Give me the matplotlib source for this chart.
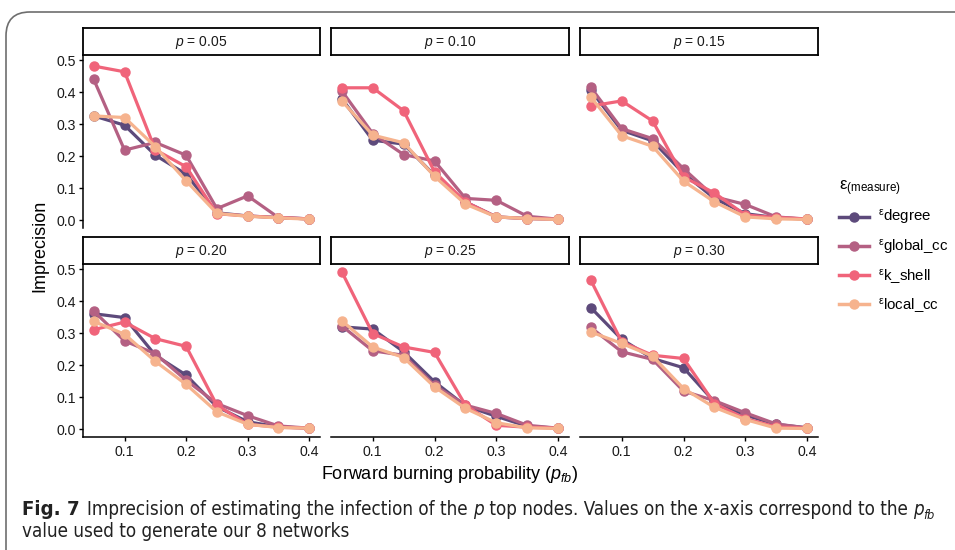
import matplotlib
matplotlib.use("Agg")
import matplotlib.pyplot as plt
from matplotlib.patches import FancyBboxPatch
from matplotlib.lines import Line2D
from matplotlib import font_manager as fm

plt.rcParams['font.family'] = ['Liberation Sans', 'DejaVu Sans']
plt.rcParams['mathtext.fontset'] = 'custom'
plt.rcParams['mathtext.rm'] = 'Liberation Sans'
plt.rcParams['mathtext.it'] = 'Liberation Sans:italic'
plt.rcParams['mathtext.bf'] = 'Liberation Sans:bold'

# ---------------- data ----------------
pfb = [0.05, 0.10, 0.15, 0.20, 0.25, 0.30, 0.35, 0.40]
p_values = ["0.05", "0.10", "0.15", "0.20", "0.25", "0.30"]
measures = ["degree", "global_cc", "k_shell", "local_cc"]
colors = ["#5d4a7b", "#b46083", "#f0647a", "#f6b38e"]

degree = [
    [0.326, 0.297, 0.203, 0.144, 0.023, 0.013, 0.008, 0.004],
    [0.380, 0.250, 0.238, 0.140, 0.057, 0.010, 0.005, 0.003],
    [0.406, 0.281, 0.248, 0.146, 0.068, 0.020, 0.008, 0.003],
    [0.361, 0.349, 0.231, 0.169, 0.070, 0.023, 0.007, 0.003],
    [0.320, 0.313, 0.242, 0.148, 0.073, 0.040, 0.009, 0.003],
    [0.380, 0.281, 0.221, 0.192, 0.085, 0.044, 0.015, 0.004],
]
global_cc = [
    [0.440, 0.219, 0.243, 0.203, 0.036, 0.076, 0.008, 0.004],
    [0.404, 0.271, 0.205, 0.185, 0.068, 0.062, 0.012, 0.003],
    [0.415, 0.286, 0.255, 0.161, 0.073, 0.049, 0.010, 0.003],
    [0.369, 0.276, 0.236, 0.153, 0.080, 0.042, 0.010, 0.003],
    [0.323, 0.245, 0.231, 0.137, 0.075, 0.049, 0.012, 0.003],
    [0.318, 0.242, 0.218, 0.119, 0.089, 0.051, 0.016, 0.004],
]
k_shell = [
    [0.482, 0.464, 0.220, 0.167, 0.020, 0.013, 0.008, 0.004],
    [0.414, 0.414, 0.342, 0.151, 0.057, 0.010, 0.005, 0.003],
    [0.357, 0.373, 0.310, 0.135, 0.085, 0.016, 0.008, 0.004],
    [0.311, 0.335, 0.283, 0.259, 0.075, 0.015, 0.006, 0.003],
    [0.492, 0.299, 0.257, 0.240, 0.075, 0.012, 0.006, 0.003],
    [0.466, 0.273, 0.231, 0.221, 0.080, 0.033, 0.007, 0.003],
]
local_cc = [
    [0.326, 0.321, 0.230, 0.123, 0.021, 0.012, 0.007, 0.003],
    [0.373, 0.266, 0.242, 0.137, 0.050, 0.010, 0.005, 0.002],
    [0.385, 0.264, 0.231, 0.122, 0.057, 0.010, 0.004, 0.002],
    [0.337, 0.297, 0.212, 0.140, 0.054, 0.015, 0.005, 0.003],
    [0.339, 0.257, 0.224, 0.132, 0.065, 0.020, 0.004, 0.002],
    [0.304, 0.268, 0.228, 0.127, 0.068, 0.030, 0.003, 0.002],
]
series = [degree, global_cc, k_shell, local_cc]
x_ticks = [0.1, 0.2, 0.3, 0.4]
y_ticks = [0.0, 0.1, 0.2, 0.3, 0.4, 0.5]

# ---------------- layout ----------------
W, H = 955, 550
fig = plt.figure(figsize=(W / 100, H / 100), dpi=100)

def fr(x0, y0, x1, y1):
    return [x0 / W, 1 - y1 / H, (x1 - x0) / W, (y1 - y0) / H]

cols = [(83, 320), (331, 569), (580, 818)]
rows = [((28, 55), (55, 228)), ((237, 264), (264, 437))]

for i, pv in enumerate(p_values):
    r, c = divmod(i, 3)
    (sx0, sx1) = cols[c]
    (st0, st1), (ay0, ay1) = rows[r]
    ax = fig.add_axes(fr(sx0, ay0, sx1, ay1))
    for s, col in zip(series, colors):
        ax.plot(pfb, s[i], color=col, lw=2.3, marker='o', ms=6.5,
                solid_capstyle='round', zorder=3)
    ax.set_xlim(0.0325, 0.4175)
    ax.set_ylim(-0.0246, 0.5166)
    ax.set_xticks(x_ticks)
    ax.set_yticks(y_ticks)
    for sp in ['top', 'right']:
        ax.spines[sp].set_visible(False)
    ax.spines['left'].set_visible(c == 0)
    ax.spines['bottom'].set_visible(r == 1)
    for sp in ax.spines.values():
        sp.set_linewidth(1.1)
        sp.set_color('black')
    ax.tick_params(axis='y', left=(c == 0), labelleft=(c == 0), length=3,
                   width=1.0, labelsize=10.2, pad=2, colors='black')
    ax.tick_params(axis='x', bottom=(r == 1), labelbottom=(r == 1), length=3,
                   width=1.0, labelsize=10.2, pad=3, colors='black')
    for lab in ax.get_xticklabels() + ax.get_yticklabels():
        lab.set_color('#1a1a1a')
    ax.yaxis.set_major_formatter(matplotlib.ticker.FormatStrFormatter('%.1f'))
    ax.xaxis.set_major_formatter(matplotlib.ticker.FormatStrFormatter('%.1f'))
    # strip
    sax = fig.add_axes(fr(sx0, st0, sx1, st1))
    sax.set_xticks([]); sax.set_yticks([])
    for sp in sax.spines.values():
        sp.set_linewidth(1.3)
    sax.text(0.5, 0.45, r'$p$ = ' + pv, ha='center', va='center',
             fontsize=10, color='#1a1a1a', transform=sax.transAxes)

# axis titles
fig.text(40 / W, 1 - 246 / H, 'Imprecision', rotation=90, ha='center',
         va='center', fontsize=13)
fig.text(450 / W, 1 - 479 / H, r'Forward burning probability ($p_{fb}$)',
         ha='center', va='baseline', fontsize=13)

# legend
handles = [Line2D([0], [0], color=c_, lw=2.5, marker='o', ms=6.5) for c_ in colors]
labels = [r'$^{\mathrm{ε}}\mathrm{degree}$', r'$^{\mathrm{ε}}\mathrm{global\_cc}$',
          r'$^{\mathrm{ε}}\mathrm{k\_shell}$', r'$^{\mathrm{ε}}\mathrm{local\_cc}$']
leg = fig.legend(handles, labels, loc='upper left',
                 bbox_to_anchor=(828 / W, 1 - 168 / H), frameon=False,
                 title=r'$\mathrm{ε}_{\mathrm{(measure)}}$', title_fontsize=12,
                 fontsize=10.8, handlelength=2.0, labelspacing=0.68,
                 handletextpad=0.6, borderpad=0.2)
leg._legend_box.align = 'left'

# frame around figure
frame = FancyBboxPatch((6 / W, -0.05), 1.2, (1 - 12 / H) + 0.05,
                       boxstyle='round,pad=0,rounding_size=0.025',
                       transform=fig.transFigure, fill=False,
                       edgecolor='#6e6e6e', lw=1.2, mutation_aspect=W / H)
fig.add_artist(frame)

# caption
cond = fm.FontProperties(family='DejaVu Sans', stretch='condensed')
path = fm.findfont(cond, fallback_to_default=True)
if 'Condensed' in path:
    cap_fams = ['DejaVu Sans']
    cap_stretch = 'condensed'
else:
    cap_fams = ['Liberation Sans Narrow', 'Liberation Sans', 'DejaVu Sans']
    cap_stretch = 'normal'

fig.canvas.draw()
renderer = fig.canvas.get_renderer()

def line(pieces, x_px, y_px, base):
    x = x_px
    made = []
    for txt, kw in pieces:
        t = fig.text(x / W, 1 - y_px / H, txt, ha='left', va='baseline',
                     fontsize=base * kw.get('scale', 1.0), family=cap_fams,
                     stretch=cap_stretch,
                     weight=kw.get('weight', 'normal'),
                     style=kw.get('style', 'normal'), color='#222222')
        bb = t.get_window_extent(renderer)
        x += bb.width + kw.get('gap', 0)
        made.append(t)
    return x, made

line1 = [("Fig. 7", dict(weight='bold', scale=1.08, gap=7)),
         ("Imprecision of estimating the infection of the ", {}),
         ("p", dict(style='italic')),
         (" top nodes. Values on the x-axis correspond to the ", {}),
         ("p", dict(style='italic'))]

# choose caption size so that line 1 spans like the reference
base = 12.0
xend, made = line(line1, 22, 515, base)
for t in made:
    t.remove()
base = base * (925 - 22) / (xend - 22)
xend, made = line(line1, 22, 515, base)
fig.text(xend / W, 1 - 519 / H, "fb", ha='left', va='baseline',
         fontsize=base * 0.68, family=cap_fams, stretch=cap_stretch,
         style='italic', color='#222222')
line([("value used to generate our 8 networks", {})], 22, 537, base)

fig.savefig('out.png', dpi=100)
